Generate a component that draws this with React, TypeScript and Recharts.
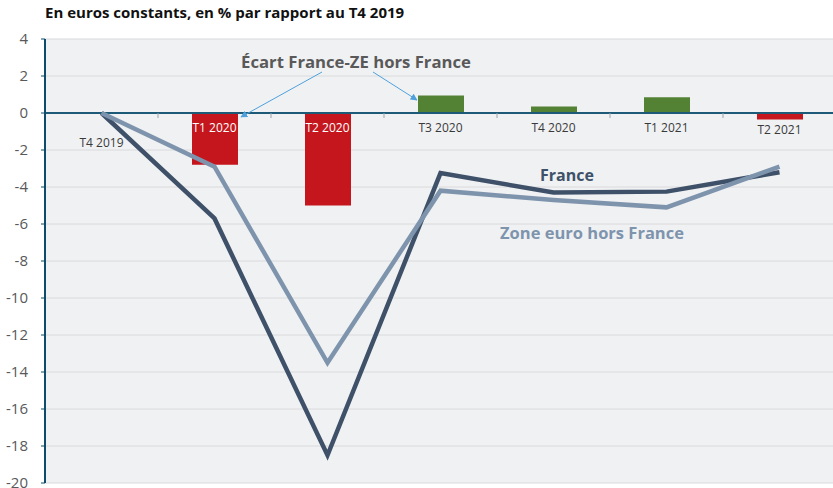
import { ComposedChart, Bar, Line, XAxis, YAxis, CartesianGrid, ReferenceLine, Cell } from 'recharts';

// Quarters
const QUARTERS = ['T4 2019', 'T1 2020', 'T2 2020', 'T3 2020', 'T4 2020', 'T1 2021', 'T2 2021'];
// GDP vs T4 2019 (%)
const FRANCE = [0, -5.7, -18.5, -3.25, -4.3, -4.25, -3.2];
const ZONE_EURO_HORS_FRANCE = [0, -2.9, -13.5, -4.2, -4.7, -5.1, -2.9];
// Gap France - ZE hors France
const ECART = [0, -2.8, -5.0, 0.95, 0.35, 0.85, -0.35];
const Y_TICKS = [-20, -18, -16, -14, -12, -10, -8, -6, -4, -2, 0, 2, 4];

const FONT = '"Open Sans", "Noto Sans", sans-serif';
const CHART_W = 840;
const CHART_H = 488;
const MARGIN = { top: 39, right: 4, bottom: 4, left: 0 };
const X_AXIS_H = 1;
const Y_AXIS_W = 45;
const Y_MIN = -20;
const Y_MAX = 4;

const plotW = CHART_W - MARGIN.left - MARGIN.right - Y_AXIS_W;
const plotH = CHART_H - MARGIN.top - MARGIN.bottom - X_AXIS_H;
const pxPerUnit = plotH / (Y_MAX - Y_MIN);
const zeroY = MARGIN.top + Y_MAX * pxPerUnit;
const band = plotW / QUARTERS.length;

const data = QUARTERS.map((q, i) => ({
  quarter: q,
  france: FRANCE[i],
  ze: ZONE_EURO_HORS_FRANCE[i],
  ecart: ECART[i],
}));

// Quarter labels sit on the zero line, not at the bottom of the plot
function QuarterTick(props: any) {
  const { x, payload, index } = props;
  const i = payload?.index ?? index ?? QUARTERS.indexOf(payload?.value);
  const gap = ECART[i];
  let y = zeroY + 19;
  let fill = '#3a3a3a';
  if (gap < -1) fill = '#ffffff';
  else if (gap < 0) y = zeroY - gap * pxPerUnit + 15;
  if (i === 0) y = zeroY + 34;
  const right = x + band / 2;
  return (
    <g>
      <line x1={right} x2={right} y1={zeroY} y2={zeroY + 5} stroke="#9aa3ab" strokeWidth={1} />
      <text x={x} y={y} textAnchor="middle" fontSize={12} fontFamily={FONT} fill={fill}>
        {payload.value}
      </text>
    </g>
  );
}

export default function App() {
  return (
    <div style={{ position: 'absolute', left: 0, top: 0, width: 833, height: 488, overflow: 'hidden', background: '#fff' }}>
      <div
        style={{
          position: 'absolute',
          left: 45,
          top: 2,
          fontFamily: FONT,
          fontWeight: 700,
          fontSize: 15,
          color: '#111',
          whiteSpace: 'nowrap',
        }}
      >
        En euros constants, en % par rapport au T4 2019
      </div>
      <ComposedChart width={CHART_W} height={CHART_H} data={data} margin={MARGIN} barCategoryGap={0}>
        <CartesianGrid vertical={false} stroke="#d9dadd" fill="#f0f1f3" />
        <XAxis
          dataKey="quarter"
          height={X_AXIS_H}
          axisLine={false}
          tickLine={false}
          interval={0}
          tick={(p: any) => <QuarterTick {...p} />}
        />
        <YAxis
          width={Y_AXIS_W}
          domain={[Y_MIN, Y_MAX]}
          ticks={Y_TICKS}
          interval={0}
          axisLine={{ stroke: '#0d4a6b', strokeWidth: 2 }}
          tickLine={{ stroke: '#0d4a6b' }}
          tickSize={4}
          tickMargin={13}
          tick={{ fontSize: 15, fill: '#58595b', fontFamily: FONT }}
        />
        <Bar dataKey="ecart" barSize={46} isAnimationActive={false}>
          {data.map((d, i) => (
            <Cell key={i} fill={d.ecart < 0 ? '#c4161c' : '#548235'} />
          ))}
        </Bar>
        <ReferenceLine y={0} stroke="#1d5a78" strokeWidth={2} />
        <Line
          dataKey="france"
          stroke="#3e5169"
          strokeWidth={4.5}
          dot={false}
          isAnimationActive={false}
        />
        <Line
          dataKey="ze"
          stroke="#7e94ad"
          strokeWidth={4.5}
          dot={false}
          isAnimationActive={false}
        />
      </ComposedChart>
      <svg width={833} height={488} style={{ position: 'absolute', left: 0, top: 0, pointerEvents: 'none' }}>
        <defs>
          <marker id="arr" viewBox="0 0 10 10" refX="9" refY="5" markerWidth="7" markerHeight="7" orient="auto">
            <path d="M0,0 L10,5 L0,10 z" fill="#4ea1dc" />
          </marker>
        </defs>
        <line x1={322} y1={72} x2={241} y2={117} stroke="#4ea1dc" strokeWidth={1} markerEnd="url(#arr)" />
        <line x1={373} y1={72} x2={417} y2={100} stroke="#4ea1dc" strokeWidth={1} markerEnd="url(#arr)" />
        <text x={356} y={68} textAnchor="middle" fontFamily={FONT} fontWeight={700} fontSize={16.7} fill="#595959">
          Écart France-ZE hors France
        </text>
        <text x={567} y={181} textAnchor="middle" fontFamily={FONT} fontWeight={700} fontSize={16} fill="#3e5169">
          France
        </text>
        <text x={592} y={239} textAnchor="middle" fontFamily={FONT} fontWeight={700} fontSize={16.5} fill="#7e94ad">
          Zone euro hors France
        </text>
      </svg>
    </div>
  );
}
